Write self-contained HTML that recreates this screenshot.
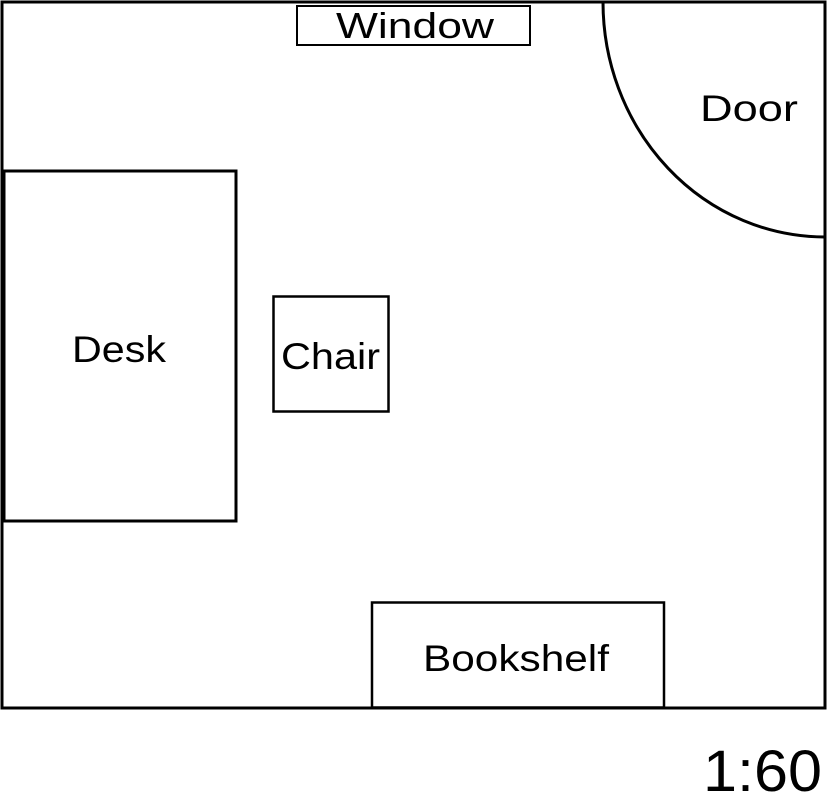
<!DOCTYPE html>
<html><head><meta charset="utf-8"><style>
html,body{margin:0;padding:0;background:#fff;}
svg{display:block;}
text{font-family:"Liberation Sans",sans-serif;fill:#000;}
</style></head><body>
<svg width="828" height="796" viewBox="0 0 828 796" xmlns="http://www.w3.org/2000/svg">
<rect x="2" y="2" width="823" height="706" fill="none" stroke="#000" stroke-width="3"/>
<path d="M603 2 A222 235 0 0 0 825 237" fill="none" stroke="#000" stroke-width="3"/>
<rect x="297" y="6" width="233" height="39" fill="none" stroke="#000" stroke-width="2"/>
<rect x="4" y="171" width="232" height="350" fill="none" stroke="#000" stroke-width="3"/>
<rect x="273.5" y="296.5" width="115" height="115" fill="none" stroke="#000" stroke-width="2.5"/>
<rect x="372" y="602.5" width="292" height="105" fill="none" stroke="#000" stroke-width="2.5"/>
<text x="336" y="38" font-size="36" textLength="158" lengthAdjust="spacingAndGlyphs">Window</text>
<text x="700" y="121" font-size="37" textLength="98" lengthAdjust="spacingAndGlyphs">Door</text>
<text x="72" y="362" font-size="37" textLength="94" lengthAdjust="spacingAndGlyphs">Desk</text>
<text x="281" y="369" font-size="37" textLength="99" lengthAdjust="spacingAndGlyphs">Chair</text>
<text x="423" y="671" font-size="37" textLength="186" lengthAdjust="spacingAndGlyphs">Bookshelf</text>
<text x="703" y="791" font-size="58" textLength="119" lengthAdjust="spacingAndGlyphs">1:60</text>
</svg>
</body></html>
